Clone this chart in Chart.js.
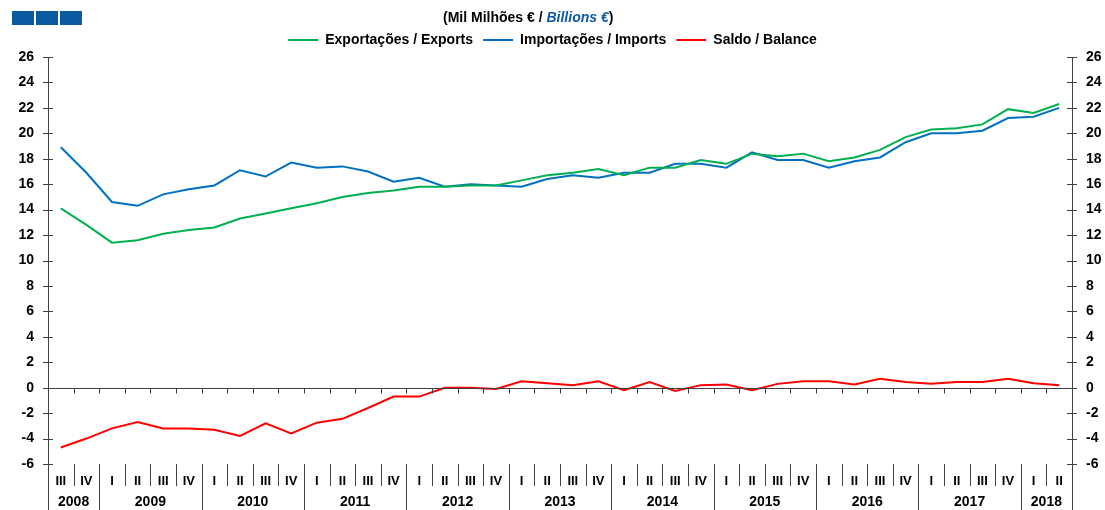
<!DOCTYPE html>
<html>
<head>
<meta charset="utf-8">
<script src="https://cdn.jsdelivr.net/npm/chart.js@4"></script>
<style>
  html, body { margin: 0; padding: 0; background: #fff; }
  #wrap { position: relative; width: 1105px; height: 510px; }
  #logo { position: absolute; left: 12px; top: 11px; font-size: 0; }
  #logo span { display: inline-block; width: 22px; height: 14px; background: #0b5aa2; margin-right: 2px; }
  #unit { position: absolute; top: 9px; left: 443px; font: bold 14px "Liberation Sans", Arial, sans-serif; color: #000; }
  #unit i { color: #0b5aa2; }
</style>
</head>
<body>
<div id="wrap">
  <div id="logo"><span></span><span></span><span></span></div>
  <div id="unit">(Mil Milhões € / <i>Billions €</i>)</div>
  <canvas id="chart" width="1105" height="510"></canvas>
</div>
<script>
// --- Data (2008 III .. 2018 II, mil milhões €) ---
const quarters = ['III', 'IV',
  'I', 'II', 'III', 'IV', 'I', 'II', 'III', 'IV', 'I', 'II', 'III', 'IV',
  'I', 'II', 'III', 'IV', 'I', 'II', 'III', 'IV', 'I', 'II', 'III', 'IV',
  'I', 'II', 'III', 'IV', 'I', 'II', 'III', 'IV', 'I', 'II', 'III', 'IV',
  'I', 'II'];
const years = ['2008', '2009', '2010', '2011', '2012', '2013', '2014', '2015', '2016', '2017', '2018'];
const quartersPerYear = [2, 4, 4, 4, 4, 4, 4, 4, 4, 4, 2];

const exportsData = [14.1, 12.8, 11.4, 11.6, 12.1, 12.4, 12.6, 13.3, 13.7, 14.1,
  14.5, 15.0, 15.3, 15.5, 15.8, 15.8, 15.9, 15.9, 16.3, 16.7,
  16.9, 17.2, 16.7, 17.3, 17.3, 17.9, 17.6, 18.4, 18.2, 18.4,
  17.8, 18.1, 18.7, 19.7, 20.3, 20.4, 20.7, 21.9, 21.6, 22.3];
const importsData = [18.9, 16.9, 14.6, 14.3, 15.2, 15.6, 15.9, 17.1, 16.6, 17.7,
  17.3, 17.4, 17.0, 16.2, 16.5, 15.8, 16.0, 15.9, 15.8, 16.4,
  16.7, 16.5, 16.9, 16.9, 17.6, 17.6, 17.3, 18.5, 17.9, 17.9,
  17.3, 17.8, 18.1, 19.3, 20.0, 20.0, 20.2, 21.2, 21.3, 22.0];
const balanceData = [-4.7, -4.0, -3.2, -2.7, -3.2, -3.2, -3.3, -3.8, -2.8, -3.6,
  -2.75, -2.45, -1.6, -0.7, -0.7, 0.0, 0.0, -0.1, 0.5, 0.35,
  0.2, 0.5, -0.2, 0.45, -0.25, 0.2, 0.25, -0.2, 0.3, 0.5,
  0.5, 0.25, 0.7, 0.45, 0.3, 0.45, 0.45, 0.7, 0.35, 0.2];

const yTicks = { min: -6, max: 26, step: 2 };

const FONT = '"Liberation Sans", Arial, sans-serif';
const AXIS_COLOR = '#404040';

// --- Plugin: zero line, separators, year row, crossing ticks ---
const axisDecor = {
  id: 'axisDecor',
  afterDraw(chart) {
    const { ctx, chartArea, scales: { x, y } } = chart;
    const step = x.getPixelForValue(1) - x.getPixelForValue(0);
    const y0 = Math.round(y.getPixelForValue(0)) + 0.5;
    const bottom = chartArea.bottom;
    ctx.save();
    ctx.strokeStyle = AXIS_COLOR;
    ctx.lineWidth = 1;

    // zero line
    ctx.beginPath();
    ctx.moveTo(chartArea.left, y0);
    ctx.lineTo(chartArea.right, y0);
    ctx.stroke();

    // year boundary indexes
    const yearStarts = new Set();
    let acc = 0;
    quartersPerYear.forEach(n => { yearStarts.add(acc); acc += n; });
    yearStarts.add(acc);

    for (let k = 0; k <= quarters.length; k++) {
      const bx = Math.round(x.getPixelForValue(0) - step / 2 + k * step) + 0.5;
      ctx.beginPath();
      ctx.moveTo(bx, y0);
      ctx.lineTo(bx, y0 + 5);
      ctx.moveTo(bx, bottom);
      ctx.lineTo(bx, yearStarts.has(k) ? 510 : 486);
      ctx.stroke();
    }

    // crossing tick marks on both y axes
    y.ticks.forEach(t => {
      const py = Math.round(y.getPixelForValue(t.value)) + 0.5;
      ctx.beginPath();
      ctx.moveTo(chartArea.left - 5, py);
      ctx.lineTo(chartArea.left + 5, py);
      ctx.moveTo(chartArea.right - 5, py);
      ctx.lineTo(chartArea.right + 5, py);
      ctx.stroke();
    });

    // year labels
    ctx.fillStyle = '#000';
    ctx.font = 'bold 14px ' + FONT;
    ctx.textAlign = 'center';
    ctx.textBaseline = 'middle';
    let start = 0;
    years.forEach((yr, i) => {
      const n = quartersPerYear[i];
      const cx = (x.getPixelForValue(start) + x.getPixelForValue(start + n - 1)) / 2;
      ctx.fillText(yr, cx, 502);
      start += n;
    });
    ctx.restore();
  }
};

const ctx = document.getElementById('chart').getContext('2d');

function lineSet(label, data, color) {
  return {
    label: label,
    data: data,
    borderColor: color,
    backgroundColor: color,
    borderWidth: 2,
    pointRadius: 0,
    tension: 0,
    yAxisID: 'y'
  };
}

const tickFont = { family: FONT, size: 14, weight: 'bold' };

const chart = new Chart(ctx, {
  type: 'line',
  data: {
    labels: quarters,
    datasets: [
      lineSet('Exportações / Exports', exportsData, '#00b050'),
      lineSet('Importações / Imports', importsData, '#0070c0'),
      lineSet('Saldo / Balance', balanceData, '#ff0000')
    ]
  },
  options: {
    responsive: false,
    animation: false,
    layout: { padding: { top: 23, left: 0, right: 0, bottom: 0 } },
    plugins: {
      legend: {
        position: 'top',
        labels: {
          color: '#000',
          font: { family: FONT, size: 14, weight: 'bold' },
          boxWidth: 30,
          boxHeight: 2,
          padding: 10,
          generateLabels(c) {
            return c.data.datasets.map((ds, i) => ({
              text: ds.label,
              fillStyle: ds.borderColor,
              strokeStyle: ds.borderColor,
              lineWidth: 0,
              fontColor: '#000',
              datasetIndex: i
            }));
          }
        }
      },
      tooltip: { enabled: false }
    },
    scales: {
      x: {
        type: 'category',
        offset: true,
        grid: { display: false },
        border: { display: false },
        ticks: {
          color: '#000',
          font: { family: FONT, size: 13, weight: 'bold' },
          maxRotation: 0,
          autoSkip: false,
          padding: 2
        },
        afterFit(s) { s.height = 46; }
      },
      y: {
        position: 'left',
        min: yTicks.min,
        max: yTicks.max,
        grid: { display: false, drawTicks: false, tickLength: 0 },
        border: { display: true, color: AXIS_COLOR },
        ticks: {
          stepSize: yTicks.step,
          color: '#000',
          font: tickFont,
          padding: 14
        },
        afterFit(s) { s.width = 48; }
      },
      y2: {
        position: 'right',
        min: yTicks.min,
        max: yTicks.max,
        grid: { display: false, drawTicks: false, tickLength: 0 },
        border: { display: true, color: AXIS_COLOR },
        ticks: {
          stepSize: yTicks.step,
          color: '#000',
          font: tickFont,
          padding: 14
        },
        afterFit(s) { s.width = 33; }
      }
    }
  },
  plugins: [axisDecor]
});
</script>
</body>
</html>
